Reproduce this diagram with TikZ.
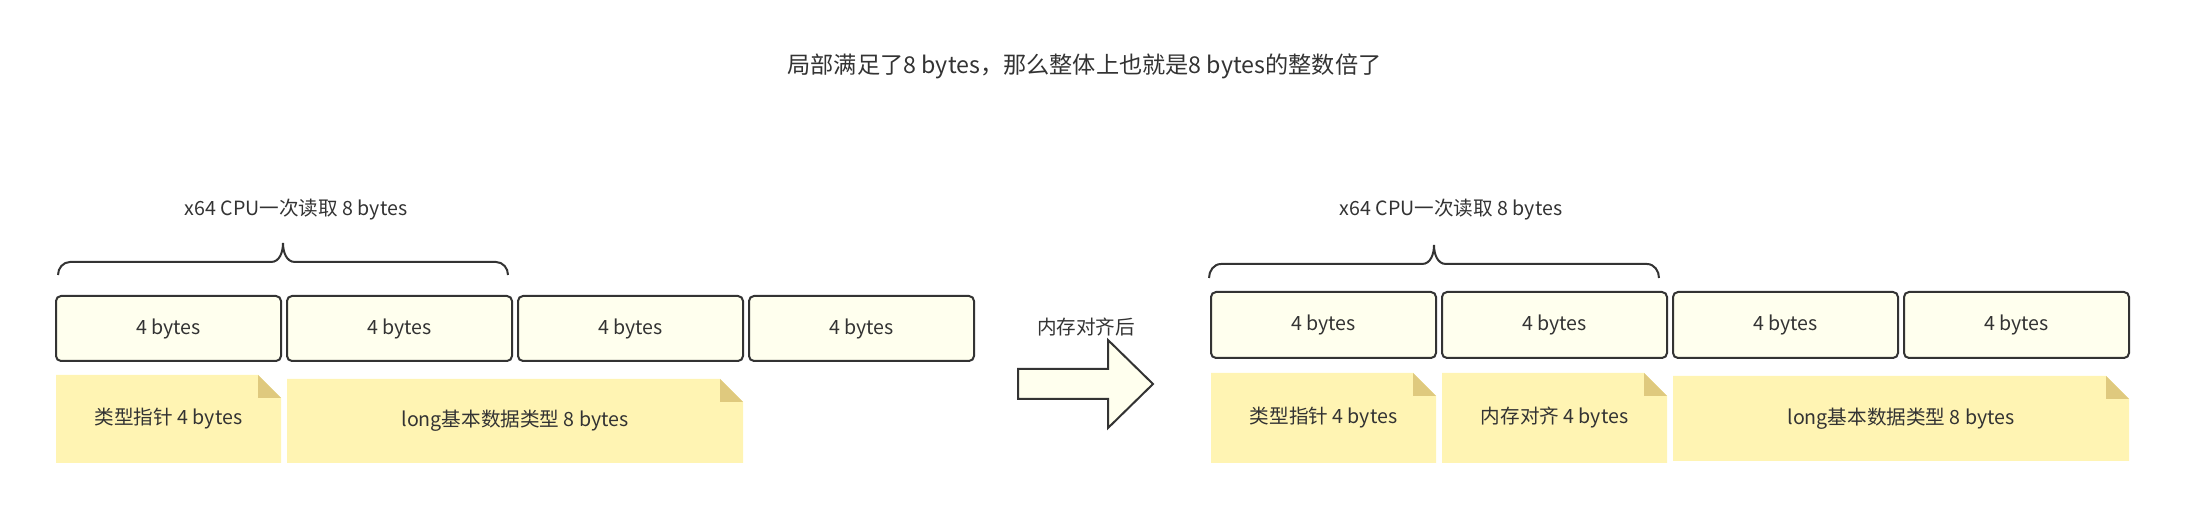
\documentclass[tikz,border=0pt]{standalone}
\usepackage{fontspec}
\setmainfont{Noto Sans CJK SC}
\definecolor{boxfill}{HTML}{FFFFEE}
\definecolor{notefill}{HTML}{FFF4B3}
\definecolor{notefold}{HTML}{DFC97E}
\definecolor{inkgray}{HTML}{333333}
\begin{document}
\begin{tikzpicture}[x=1pt, y=1pt,
        every node/.style={text=inkgray, inner sep=0pt, font=\fontsize{19.6}{23}\selectfont},
        bytebox/.style={draw=inkgray, line width=2pt, fill=boxfill, rounded corners=5pt, minimum width=225pt},
        memo/.style={minimum width=#1, path picture={
            \fill[notefill] (path picture bounding box.south west) -- (path picture bounding box.north west)
                -- ([xshift=-23pt]path picture bounding box.north east) -- ([yshift=-23pt]path picture bounding box.north east)
                -- (path picture bounding box.south east) -- cycle;
            \fill[notefold] ([xshift=-23pt]path picture bounding box.north east) -- ([xshift=-23pt, yshift=-23pt]path picture bounding box.north east)
                -- ([yshift=-23pt]path picture bounding box.north east) -- cycle;}},
        brace line/.style={draw=inkgray, line width=2pt},
        fat arrow/.style={draw=inkgray, line width=2pt, fill=boxfill, line join=miter}]
    \useasboundingbox (0,0) rectangle (2194,530);

    % Title
    \node at (1084.5, 464) (title) {\fontsize{23.2}{27}\selectfont 局部满足了8 bytes，那么整体上也就是8 bytes的整数倍了};

    % Before alignment
    \node at (296, 320) (lread) {x64 CPU一次读取 8 bytes};
    \node[bytebox, minimum height=65pt] at (168.5, 201.5) (lbox1) {4 bytes};
    \node[bytebox, minimum height=65pt] at (399.5, 201.5) (lbox2) {4 bytes};
    \node[bytebox, minimum height=65pt] at (630.5, 201.5) (lbox3) {4 bytes};
    \node[bytebox, minimum height=65pt] at (861.5, 201.5) (lbox4) {4 bytes};
    \node[memo=225pt, minimum height=88pt] at (168.5, 111) (lnote1) {类型指针 4 bytes};
    \node[memo=456pt, minimum height=84pt] at (515, 109) (lnote2) {long基本数据类型 8 bytes};

    \draw[brace line] (58,255) to[out=90, in=180] (70,268) -- (271,268)
        to[out=0, in=-90] (283,287) to[out=-90, in=180] (295,268) -- (496,268)
        to[out=0, in=90] (508,255);

    % Arrow
    \node at (1086, 203) (shiftlabel) {内存对齐后};
    \draw[fat arrow] (1018,161) -- (1108,161) -- (1108,190) -- (1153,146)
        -- (1108,102) -- (1108,131) -- (1018,131) -- cycle;

    % After alignment
    \node at (1451, 320) (rread) {x64 CPU一次读取 8 bytes};
    \node[bytebox, minimum height=66pt] at (1323.5, 205) (rbox1) {4 bytes};
    \node[bytebox, minimum height=66pt] at (1554.5, 205) (rbox2) {4 bytes};
    \node[bytebox, minimum height=66pt] at (1785.5, 205) (rbox3) {4 bytes};
    \node[bytebox, minimum height=66pt] at (2016.5, 205) (rbox4) {4 bytes};
    \node[memo=225pt, minimum height=90pt] at (1323.5, 112) (rnote1) {类型指针 4 bytes};
    \node[memo=225pt, minimum height=90pt] at (1554.5, 112) (rnote2) {内存对齐 4 bytes};
    \node[memo=456pt, minimum height=85pt] at (1901, 111.5) (rnote3) {long基本数据类型 8 bytes};

    \draw[brace line] (1209,252) to[out=90, in=180] (1221,266) -- (1422,266)
        to[out=0, in=-90] (1434,285) to[out=-90, in=180] (1446,266) -- (1647,266)
        to[out=0, in=90] (1659,252);
\end{tikzpicture}
\end{document}
